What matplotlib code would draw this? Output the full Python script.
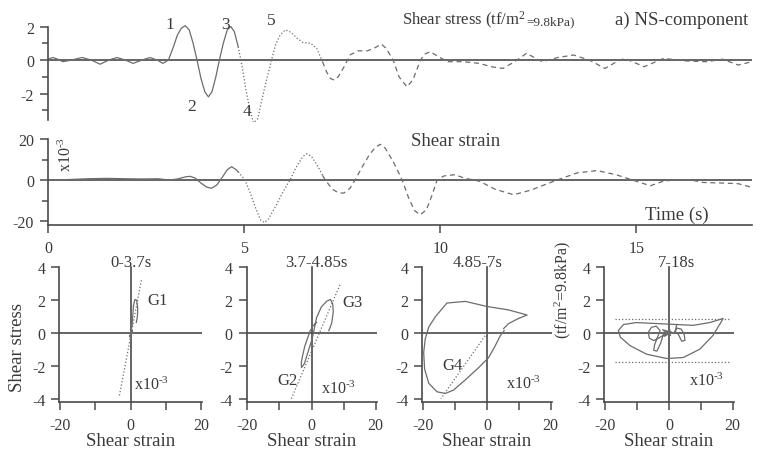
import numpy as np
import matplotlib
matplotlib.use('Agg')
import matplotlib.pyplot as plt

plt.rcParams['font.family'] = ['Liberation Serif', 'DejaVu Serif']
plt.rcParams['mathtext.fontset'] = 'custom'
plt.rcParams['mathtext.rm'] = 'Liberation Serif'
plt.rcParams['mathtext.it'] = 'Liberation Serif:italic'
plt.rcParams['axes.unicode_minus'] = False

# --- shear stress time history (tf/m2), NS component
stress_t = [0.0, 0.13, 0.25, 0.38, 0.6, 0.87, 1.1, 1.33, 1.55, 1.76, 1.97, 2.17, 2.4, 2.6, 2.78,
            2.93, 3.07, 3.2, 3.3, 3.4, 3.5, 3.6, 3.7, 3.8, 3.9, 4.0, 4.09, 4.18, 4.28, 4.37,
            4.47, 4.57, 4.66, 4.75, 4.85, 4.95, 5.05, 5.15, 5.24, 5.35, 5.45, 5.57, 5.7, 5.8,
            5.92, 6.05, 6.2, 6.35, 6.5, 6.7, 6.85, 7.0, 7.1, 7.2, 7.3, 7.4, 7.55, 7.7, 7.9,
            8.15, 8.35, 8.5, 8.62, 8.8, 8.95, 9.15, 9.3, 9.5, 9.6, 9.75, 9.95, 10.2, 10.6,
            11.0, 11.3, 11.6, 11.9, 12.2, 12.6, 13.0, 13.4, 13.8, 14.2, 14.5, 14.7, 15.2,
            15.7, 16.2, 16.8, 17.2, 17.6, 17.95]
stress_v = [0.05, 0.15, 0.05, -0.1, 0.0, 0.15, 0.0, -0.25, 0.0, 0.15, 0.0, -0.2, 0.0, 0.15, 0.0,
            -0.2, 0.0, 0.8, 1.5, 1.9, 2.05, 1.8, 1.0, 0.0, -1.1, -1.9, -2.2, -1.9, -1.0, 0.0,
            1.0, 1.8, 2.0, 1.7, 0.8, -0.4, -1.8, -3.0, -3.75, -3.5, -2.4, -1.2, 0.0, 0.9,
            1.5, 1.8, 1.65, 1.3, 1.05, 1.0, 0.7, -0.1, -0.7, -1.1, -1.2, -1.0, -0.4, 0.3, 0.55,
            0.55, 0.75, 0.95, 0.7, 0.0, -1.0, -1.6, -1.2, 0.0, 0.35, 0.5, 0.2, -0.1, -0.1,
            -0.2, -0.4, -0.5, -0.1, 0.4, -0.1, 0.15, 0.3, 0.0, -0.5, -0.1, 0.1, -0.4,
            0.1, -0.05, -0.1, 0.05, -0.3, -0.1]

# --- shear strain time history (x10^-3)
strain_t = [0.0, 0.5, 1.0, 1.5, 2.0, 2.4, 2.8, 3.1, 3.3, 3.5, 3.62, 3.75, 3.9, 4.05, 4.17, 4.3,
            4.45, 4.57, 4.68, 4.8, 4.85, 4.9, 5.02, 5.15, 5.3, 5.42, 5.52, 5.62, 5.8, 6.0, 6.17,
            6.35, 6.5, 6.6, 6.72, 6.9, 7.0, 7.07, 7.25, 7.4, 7.54, 7.7, 7.83, 8.0, 8.2, 8.35,
            8.47, 8.6, 8.8, 9.03, 9.2, 9.35, 9.49, 9.65, 9.8, 9.92, 10.1, 10.38, 10.6, 11.0,
            11.4, 11.87, 12.3, 12.98, 13.5, 14.0, 14.5, 14.9, 15.36, 15.7, 16.0, 16.4, 16.7,
            17.2, 17.6, 17.95]
strain_v = [0.0, 0.2, 0.6, 0.8, 0.6, 0.5, 0.6, 0.0, 0.5, 1.5, 1.8, 1.0, -1.5, -3.5, -4.0, -2.5,
            1.5, 5.0, 6.5, 5.0, 4.0, 2.8, 0.0, -6.0, -14.0, -19.5, -20.8, -19.0, -13.0, -5.5, 0.0,
            7.0, 11.5, 12.8, 11.5, 6.0, 2.3, 0.0, -4.5, -6.2, -6.4, -4.0, 0.0, 6.0, 12.5, 16.0,
            17.4, 15.5, 9.0, 0.0, -9.0, -15.0, -17.0, -14.5, -7.0, 0.0, 2.0, 2.6, 1.0, -0.6,
            -4.5, -7.2, -5.0, 0.0, 3.5, 4.6, 2.5, 0.0, -2.8, -0.5, 0.0, 0.0, -1.2,
            -1.5, -1.8, -3.6]

# time windows used for the stress-strain loops
windows = [(0.0, 4.85, '-'), (4.85, 7.0, ':'), (7.0, 18.0, (0, (4, 3)))]

# --- stress-strain loops (strain x10^-3, stress tf/m2)
g1_strain = [0.0, 0.4, -0.3, 0.5, -0.2, 0.3, 0.0, 0.4, 0.6, 0.8, 1.2, 1.7, 2.0, 1.9, 1.6]
g1_stress = [0.0, 0.15, -0.2, 0.1, -0.25, 0.15, 0.0, 0.5, 1.1, 1.7, 2.05, 2.0, 1.5, 1.0, 0.65]
g1_secant = ([-3.2, 3.1], [-3.8, 3.3])

g23_strain = [1.6, 0.5, -0.5, -1.3, -2.1, -2.8, -3.2, -3.1, -2.2, -1.0, 0.2, 0.9, 1.6, 3.1,
              4.8, 5.9, 6.6, 6.8, 6.3, 5.4]
g23_stress = [0.65, 0.45, 0.1, -0.35, -0.8, -1.4, -1.8, -2.1, -1.85, -1.1, -0.35, 0.3, 0.95,
              1.6, 1.95, 2.05, 1.8, 1.3, 0.6, 0.15]
g23_secant = ([-6.3, 8.9], [-4.0, 2.95])

g4_strain = [5.4, 4.2, 2.6, 0.5, -2.6, -6.8, -10.5, -13.1, -15.7, -18.3, -19.6, -19.9, -19.4,
             -18.3, -16.2, -12.6, -6.8, 0.0, 6.8, 12.6, 9.9, 6.8, 5.2]
g4_stress = [0.15, -0.15, -0.77, -1.5, -2.1, -2.85, -3.47, -3.68, -3.58, -3.06, -2.2, -1.19,
             -0.35, 0.37, 1.0, 1.83, 1.93, 1.62, 1.41, 1.1, 0.89, 0.58, 0.27]
g4_secant = ([0.0, -14.5], [0.0, -4.0])

late_strain = [-1.0, 0.5, -2.0, 0.8, -1.5, 0.3, -0.5, -1.8, -2.6, -3.8, -4.8, -4.5, -3.5,
               -2.8, -4.0, -5.5, -6.5, -6.2, -4.8, -3.2, -1.5, 0.5, 1.5, 2.5, 3.8, 4.8, 5.0,
               4.0, 3.0, 2.0, 2.4, 7.6, 12.8, 17.0, 16.4, 13.8, 9.7, 4.5, -0.7, -7.0, -12.2,
               -15.3, -15.9, -14.3, -10.2, -3.9, 2.4]
late_stress = [0.1, -0.15, 0.2, 0.05, -0.2, 0.2, 0.0, -0.1, -0.6, -1.1, -1.05, -0.7, -0.2,
               0.15, 0.42, 0.35, 0.05, -0.3, -0.46, -0.3, -0.1, 0.05, 0.0, 0.3, 0.25, -0.1,
               -0.45, -0.5, -0.1, 0.1, 0.52, 0.47, 0.64, 0.89, 0.68, -0.15, -0.98, -1.49,
               -1.55, -1.29, -0.77, -0.25, 0.16, 0.52, 0.64, 0.58, 0.52]
late_bounds = [0.84, -1.74]

W, H = 757, 456
ink = '#4a4a4a'
line_c = '#6c6c6c'
txt_c = '#3a3a3a'
tick_fs = 11.5
xm = r'x10$^{\text{-}3}$'


def box(x0, y0, x1, y1):
    # pixel box (top-left origin) -> figure fraction
    return [x0 / W, 1 - y1 / H, (x1 - x0) / W, (y1 - y0) / H]


def style_spine(ax, sides):
    for s in ['top', 'right', 'bottom', 'left']:
        ax.spines[s].set_visible(s in sides)
        ax.spines[s].set_color(ink)
        ax.spines[s].set_linewidth(1.2)
    ax.patch.set_alpha(0)


def plot_windows(ax, t, v):
    t = np.asarray(t)
    v = np.asarray(v)
    for a, b, ls in windows:
        m = (t >= a) & (t <= b)
        ax.plot(t[m], v[m], color=line_c, lw=0.9, linestyle=ls)


fig = plt.figure(figsize=(W / 100, H / 100), dpi=100)

# --- shear stress history
ax1 = fig.add_axes(box(48, 22.5, 752, 123))
style_spine(ax1, ['left'])
ax1.set_xlim(0, 17.95)
ax1.set_ylim(-3.7, 2.3)
ax1.spines['left'].set_bounds(-3.6, 2)
ax1.set_yticks([-2, 0, 2])
ax1.set_yticklabels(['-2', '0', '2'])
ax1.set_yticks([-3, -1, 1], minor=True)
ax1.set_xticks([])
ax1.tick_params(axis='y', which='major', length=6, width=1.1, color=ink, pad=4,
                labelsize=tick_fs, labelcolor=txt_c)
ax1.tick_params(axis='y', which='minor', length=4, width=1.1, color=ink)
ax1.axhline(0, color=ink, lw=1.2)
plot_windows(ax1, stress_t, stress_v)
for lab, xp, yp in [('1', 170, 25), ('2', 192, 107), ('3', 226, 25), ('4', 247, 112), ('5', 271, 21)]:
    fig.text(xp / W, 1 - yp / H, lab, ha='center', va='center', fontsize=12.5, color=txt_c)

t1 = fig.text(402 / W, 1 - 25 / H, r'Shear stress (tf/m$^2$', ha='left', va='baseline',
              fontsize=12, color=txt_c)
fig.canvas.draw()
bb = t1.get_window_extent(renderer=fig.canvas.get_renderer())
fig.text(bb.x1 / (W * fig.dpi / 100) + 0.5 / W, 1 - 25 / H, '=9.8kPa)', ha='left',
         va='baseline', fontsize=9.5, color=txt_c)
fig.text(615 / W, 1 - 24.5 / H, 'a) NS-component', ha='left', va='baseline', fontsize=13.5,
         color=txt_c)

# --- shear strain history
ax2 = fig.add_axes(box(48, 135.9, 752, 226.1))
style_spine(ax2, ['left', 'bottom'])
ax2.set_xlim(0, 17.95)
ax2.set_ylim(-22, 22)
ax2.spines['left'].set_bounds(-22, 20)
ax2.set_yticks([-20, 0, 20])
ax2.set_yticklabels(['-20', '0', '20'])
ax2.set_yticks([-10, 10], minor=True)
ax2.set_xticks([0, 5, 10, 15])
ax2.set_xticklabels(['0', '5', '10', '15'])
ax2.tick_params(axis='both', which='major', length=6, width=1.1, color=ink, labelsize=tick_fs,
                labelcolor=txt_c)
ax2.tick_params(axis='y', which='major', pad=4)
ax2.tick_params(axis='x', which='major', pad=5)
ax2.tick_params(axis='y', which='minor', length=4, width=1.1, color=ink)
ax2.axhline(0, color=ink, lw=1.2)
plot_windows(ax2, strain_t, strain_v)
fig.text(66 / W, 1 - 155 / H, xm, rotation=90, ha='center', va='center',
         fontsize=11.5, color=txt_c)
fig.text(456 / W, 1 - 142 / H, 'Shear strain', ha='center', va='center', fontsize=13.5, color=txt_c)
fig.text(677 / W, 1 - 215 / H, 'Time (s)', ha='center', va='center', fontsize=13.5, color=txt_c)

# --- stress-strain loops
panels = [
    dict(px=(59.2, 202.2), title='0-3.7s', tx=0.0,
         loops=[(g1_strain, g1_stress)], secant=g1_secant,
         labels=[('G1', 7.5, 2.0)], note=(6.0, -3.1)),
    dict(px=(246.5, 376.5), title='3.7-4.85s', tx=1.5,
         loops=[(g23_strain, g23_stress)], secant=g23_secant,
         labels=[('G3', 12.7, 1.9), ('G2', -7.6, -2.87)], note=(8.3, -3.35)),
    dict(px=(422.4, 551.6), title='4.85-7s', tx=-3.0,
         loops=[(g4_strain, g4_stress)], secant=g4_secant,
         labels=[('G4', -10.7, -1.95)], note=(11.6, -3.05)),
    dict(px=(604.4, 733.6), title='7-18s', tx=2.5,
         loops=[(late_strain, late_stress)], secant=None,
         labels=[], note=(11.9, -2.9)),
]

for i, p in enumerate(panels):
    ax = fig.add_axes(box(p['px'][0], 263.5, p['px'][1], 403))
    style_spine(ax, ['left', 'bottom'])
    ax.set_xlim(-20.3, 20.3)
    ax.set_ylim(-4.2, 4.3)
    ax.spines['left'].set_bounds(-4.2, 4)
    ax.set_xticks([-20, -10, 0, 10, 20])
    ax.set_xticklabels(['-20', '', '0', '', '20'])
    ax.set_yticks([-4, -2, 0, 2, 4])
    ax.set_yticklabels(['-4', '-2', '0', '2', '4'])
    ax.tick_params(axis='both', length=6, width=1.1, color=ink, labelsize=tick_fs,
                   labelcolor=txt_c)
    ax.tick_params(axis='y', pad=4)
    ax.tick_params(axis='x', pad=5)
    ax.axhline(0, color=ink, lw=1.2)
    ax.plot([0, 0], [-4.2, 4.0], color=ink, lw=1.2)
    for xs, ys in p['loops']:
        ax.plot(xs, ys, color=line_c, lw=0.9)
    if p['secant'] is not None:
        ax.plot(p['secant'][0], p['secant'][1], color=line_c, lw=0.9, linestyle=':')
    if i == 3:
        for yb in late_bounds:
            ax.plot([-17, 19], [yb, yb], color=line_c, lw=0.9, linestyle=':')
    for lab, lx, ly in p['labels']:
        ax.text(lx, ly, lab, ha='center', va='center', fontsize=12, color=txt_c)
    ax.text(p['note'][0], p['note'][1], xm, ha='center', va='center',
            fontsize=11.5, color=txt_c)
    ax.text(p['tx'], 4.1, p['title'], ha='center', va='baseline', fontsize=12,
            color=txt_c, clip_on=False)
    cx = (p['px'][0] + p['px'][1]) / 2
    fig.text(cx / W, 1 - 446 / H, 'Shear strain', ha='center', va='baseline',
             fontsize=13.5, color=txt_c)

fig.text(18 / W, 1 - 348 / H, 'Shear stress', rotation=90, ha='center', va='center',
         fontsize=13.5, color=txt_c)
fig.text(563 / W, 1 - 290 / H, r'(tf/m$^2$=9.8kPa)', rotation=90, ha='center', va='center',
         fontsize=11.5, color=txt_c)

fig.savefig('out.png', dpi=100)
